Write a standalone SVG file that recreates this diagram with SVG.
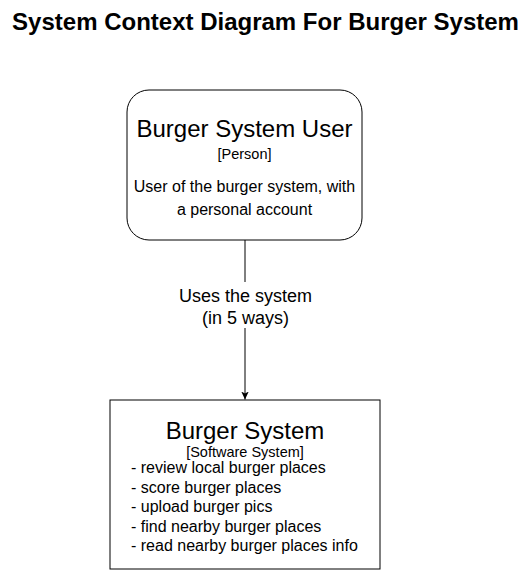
<svg xmlns="http://www.w3.org/2000/svg" width="531" height="571" viewBox="0 0 531 571">
<style>
text{font-family:"Liberation Sans",Arial,Helvetica,sans-serif;fill:#000}
.title{font-size:24px;font-weight:bold}
.name{font-size:24px}
.tag{font-size:14.5px}
.desc{font-size:16px}
.lbl{font-size:18px}
.box{fill:#fff;stroke:#000;stroke-width:1}
.edge{stroke:#000;stroke-width:1;fill:none}
</style>
<defs>
<marker id="arr" viewBox="0 0 10 10" refX="10" refY="5" markerWidth="8" markerHeight="7.5" markerUnits="userSpaceOnUse" orient="auto" preserveAspectRatio="none">
<path d="M0,0 L10,5 L0,10 L2.5,5 Z" fill="#000"/>
</marker>
</defs>
<rect width="531" height="571" fill="#fff"/>
<text class="title" x="265.5" y="30" text-anchor="middle">System Context Diagram For Burger System</text>
<g id="connectors">
<line class="edge" x1="245" y1="240" x2="245" y2="399.5" marker-end="url(#arr)"/>
<rect x="176" y="282" width="138" height="46" fill="#fff"/>
<text class="lbl" x="245.5" y="301.5" text-anchor="middle">Uses the system</text>
<text class="lbl" x="245.5" y="323.5" text-anchor="middle">(in 5 ways)</text>
</g>
<g id="user">
<rect class="box" x="127" y="90" width="235" height="150" rx="22" ry="22"/>
<text class="name" x="244.5" y="137" text-anchor="middle">Burger System User</text>
<text class="tag" x="244.5" y="159" text-anchor="middle">[Person]</text>
<text class="desc" x="244.5" y="192" text-anchor="middle">User of the burger system, with</text>
<text class="desc" x="244.5" y="215" text-anchor="middle">a personal account</text>
</g>
<g id="system">
<rect class="box" x="110" y="400" width="270" height="169"/>
<text class="name" x="245" y="439" text-anchor="middle">Burger System</text>
<text class="tag" x="245" y="457" text-anchor="middle">[Software System]</text>
<text class="desc" x="131" y="473">- review local burger places</text>
<text class="desc" x="131" y="492.5">- score burger places</text>
<text class="desc" x="131" y="512">- upload burger pics</text>
<text class="desc" x="131" y="531.5">- find nearby burger places</text>
<text class="desc" x="131" y="551">- read nearby burger places info</text>
</g>
</svg>
